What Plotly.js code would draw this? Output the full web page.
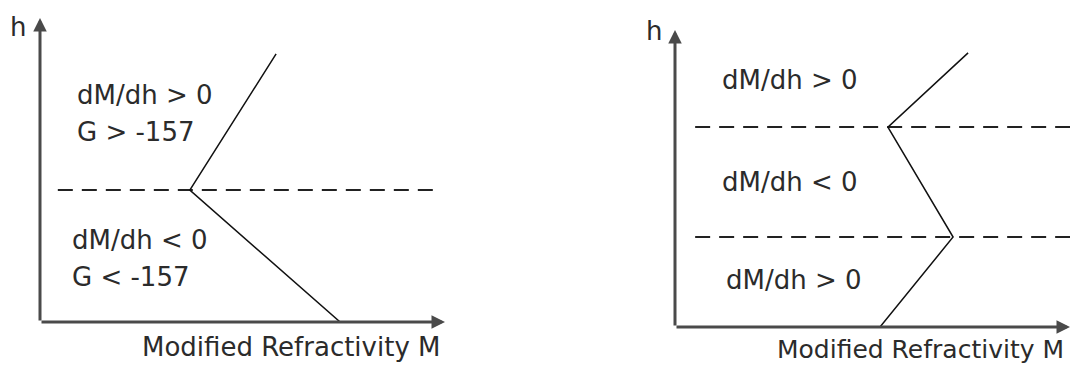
<!DOCTYPE html>
<html>
<head>
<meta charset="utf-8">
<script src="https://cdn.plot.ly/plotly-3.0.1.min.js"></script>
<style>html,body{margin:0;padding:0;background:#fff;}#chart{width:1073px;height:367px;}</style>
</head>
<body>
<div id="chart"></div>
<script>
// Left panel: single inversion layer (M vs h, schematic units 0-100)
const leftM = [58.3, 37.0, 74.1];
const leftH = [88.2, 43.4, 0];
const leftBoundaryH = [43.4];
const leftBoundaryM = [4.4, 97];
const leftLabels = ["dM/dh > 0", "G > -157", "dM/dh < 0", "G < -157"];
const leftLabelM = [9.1, 9.1, 7.9, 7.9];
const leftLabelH = [74.7, 62.5, 27.0, 14.8];

// Right panel: elevated duct
const rightM = [74.2, 53.9, 70.4, 51.9];
const rightH = [92.3, 67.3, 30.3, 0];
const rightBoundaryH = [67.3, 30.3];
const rightBoundaryM = [5.1, 101];
const rightLabels = ["dM/dh > 0", "dM/dh < 0", "dM/dh > 0"];
const rightLabelM = [11.9, 11.9, 12.9];
const rightLabelH = [83.2, 48.8, 15.8];

const axisTitleX = "Modified Refractivity M";
const axisTitleY = "h";
// positions of axis titles in the panel's M/h units (outside the drawn range)
const titleYPos = {left: [-5.4, 97], right: [-5.4, 99.5]};
const titleXPos = {left: [24.7, -8.2], right: [25.3, -7.7]};

const FONT = {family: "DejaVu Sans, Verdana, sans-serif", size: 26, color: "#2b2b2b"};
const RANGE = [0, 100];
const dom = {
  x: [40/1073, 445/1073], y: [45/367, 349/367],
  x2: [675/1073, 1070/1073], y2: [40/367, 337/367]
};
function toPaper(v, d) { return d[0] + (v - RANGE[0]) / (RANGE[1] - RANGE[0]) * (d[1] - d[0]); }

const traces = [];
function boundaries(hs, ms, xa, ya) {
  hs.forEach(h => traces.push({
    x: ms, y: [h, h], xaxis: xa, yaxis: ya, mode: "lines", hoverinfo: "skip",
    line: {color: "#222", width: 2, dash: "15px,9px"}, showlegend: false
  }));
}
boundaries(leftBoundaryH, leftBoundaryM, "x", "y");
boundaries(rightBoundaryH, rightBoundaryM, "x2", "y2");

traces.push({x: leftM, y: leftH, xaxis: "x", yaxis: "y", mode: "lines",
  line: {color: "#111", width: 1.5}, showlegend: false, hoverinfo: "skip"});
traces.push({x: rightM, y: rightH, xaxis: "x2", yaxis: "y2", mode: "lines",
  line: {color: "#111", width: 1.5}, showlegend: false, hoverinfo: "skip"});

const annotations = [];
function labels(texts, ms, hs, xr, yr) {
  texts.forEach((t, i) => annotations.push({
    text: t, x: ms[i], y: hs[i], xref: xr, yref: yr, xanchor: "left", yanchor: "middle",
    xshift: -2, showarrow: false, font: FONT
  }));
}
labels(leftLabels, leftLabelM, leftLabelH, "x", "y");
labels(rightLabels, rightLabelM, rightLabelH, "x2", "y2");

function axesArrows(xr, yr) {
  const common = {xref: xr, yref: yr, axref: xr, ayref: yr, text: "", showarrow: true,
    arrowhead: 2, arrowsize: 0.9, arrowwidth: 3, arrowcolor: "#4a4a4a"};
  annotations.push(Object.assign({x: 100, y: 0, ax: 0, ay: 0}, common));
  annotations.push(Object.assign({x: 0, y: 100, ax: 0, ay: 0}, common));
}
axesArrows("x", "y");
axesArrows("x2", "y2");

function paperLabel(text, pos, dx, dy, anchor, size) {
  annotations.push({text: text, x: toPaper(pos[0], dx), y: toPaper(pos[1], dy),
    xref: "paper", yref: "paper", xanchor: anchor, yanchor: "middle",
    showarrow: false, font: Object.assign({}, FONT, {size: size || FONT.size})});
}
paperLabel(axisTitleY, titleYPos.left, dom.x, dom.y, "center");
paperLabel(axisTitleY, titleYPos.right, dom.x2, dom.y2, "center");
paperLabel(axisTitleX, titleXPos.left, dom.x, dom.y, "left");
paperLabel(axisTitleX, titleXPos.right, dom.x2, dom.y2, "left", 25);

const hidden = {visible: false, range: RANGE, fixedrange: true};
const layout = {
  width: 1073, height: 367, margin: {l: 0, r: 0, t: 0, b: 0},
  paper_bgcolor: "#fff", plot_bgcolor: "rgba(0,0,0,0)", showlegend: false,
  xaxis: Object.assign({}, hidden, {domain: dom.x}),
  yaxis: Object.assign({}, hidden, {domain: dom.y}),
  xaxis2: Object.assign({}, hidden, {domain: dom.x2, anchor: "y2"}),
  yaxis2: Object.assign({}, hidden, {domain: dom.y2, anchor: "x2"}),
  annotations: annotations
};
Plotly.newPlot("chart", traces, layout, {displayModeBar: false, staticPlot: true});
</script>
</body>
</html>
